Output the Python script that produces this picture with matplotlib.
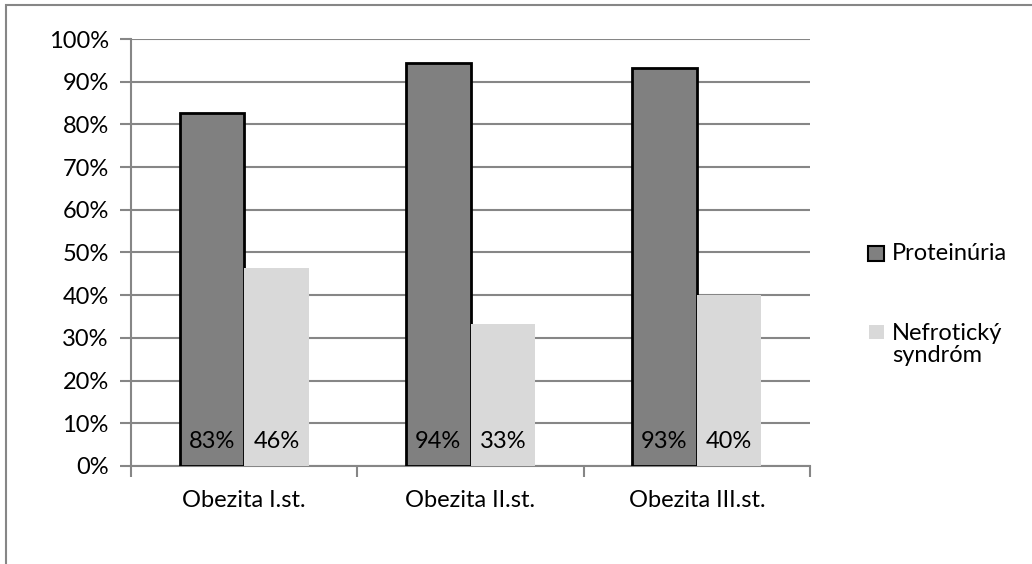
import matplotlib
matplotlib.use("Agg")
import matplotlib.pyplot as plt
from matplotlib.patches import Rectangle
import numpy as np

categories = ["Obezita I.st.", "Obezita II.st.", "Obezita III.st."]
proteinuria = [82.6, 94.4, 93.3]
nefroticky = [46.4, 33.3, 40.0]
series_names = ["Proteinúria", "Nefrotický\nsyndróm"]
yticks = list(range(0, 101, 10))

plt.rcParams["font.family"] = ["Lato", "DejaVu Sans"]
FS = 17

W, H = 1032, 564
fig = plt.figure(figsize=(W / 100, H / 100), dpi=100)
ax = fig.add_axes([131 / W, 1 - 466 / H, (810 - 131) / W, (466 - 39) / H])

dark = "#808080"
light = "#D9D9D9"
grid_c = "#868686"

x = np.arange(len(categories))
w = 1 / 3.5
b1 = ax.bar(x - w / 2, proteinuria, w, color=dark, edgecolor="black", linewidth=2, zorder=3)
b2 = ax.bar(x + w / 2, nefroticky, w, color=light, edgecolor="none", zorder=3)

for bars, vals in ((b1, proteinuria), (b2, nefroticky)):
    for rect, v in zip(bars, vals):
        ax.annotate(f"{v:.0f}%", (rect.get_x() + rect.get_width() / 2, 0),
                    xytext=(0, 25), textcoords="offset pixels",
                    ha="center", va="center", fontsize=FS, color="black", zorder=4)

ax.set_xlim(-0.5, len(categories) - 0.5)
ax.set_ylim(0, 100)
ax.set_yticks(yticks)
ax.set_yticklabels([f"{t}%" for t in yticks], fontsize=FS)
ax.yaxis.grid(True, color=grid_c, linewidth=1.5, zorder=0)
ax.set_axisbelow(True)

ax.set_xticks(x)
ax.set_xticklabels(categories, fontsize=FS)
ax.tick_params(axis="x", length=0, pad=17)
ax.set_xticks(np.arange(-0.5, len(categories), 1.0), minor=True)
ax.tick_params(axis="x", which="minor", length=8, width=1.5, color=grid_c)
ax.tick_params(axis="y", length=8, width=1.5, color=grid_c, pad=8)

for s in ("top", "right"):
    ax.spines[s].set_visible(False)
for s in ("left", "bottom"):
    ax.spines[s].set_color(grid_c)
    ax.spines[s].set_linewidth(1.5)

# legend drawn beside the plot
fig.add_artist(Rectangle((868 / W, 1 - 261 / H), 16 / W, 15 / H, transform=fig.transFigure,
                         facecolor=dark, edgecolor="black", linewidth=1.5))
fig.text(892 / W, 1 - 254 / H, series_names[0], fontsize=FS, va="center", ha="left")
fig.add_artist(Rectangle((869 / W, 1 - 339 / H), 15 / W, 14 / H, transform=fig.transFigure,
                         facecolor=light, edgecolor="none"))
for i, line in enumerate(series_names[1].split("\n")):
    fig.text(892 / W, 1 - (333 + 22 * i) / H, line, fontsize=FS, va="center", ha="left")

# chart area border
fig.add_artist(Rectangle((6 / W, -0.1), 1.2, 1 - 4.5 / H + 0.1, transform=fig.transFigure,
                         facecolor="none", edgecolor=grid_c, linewidth=1.5))

fig.savefig("out.png", dpi=100)
